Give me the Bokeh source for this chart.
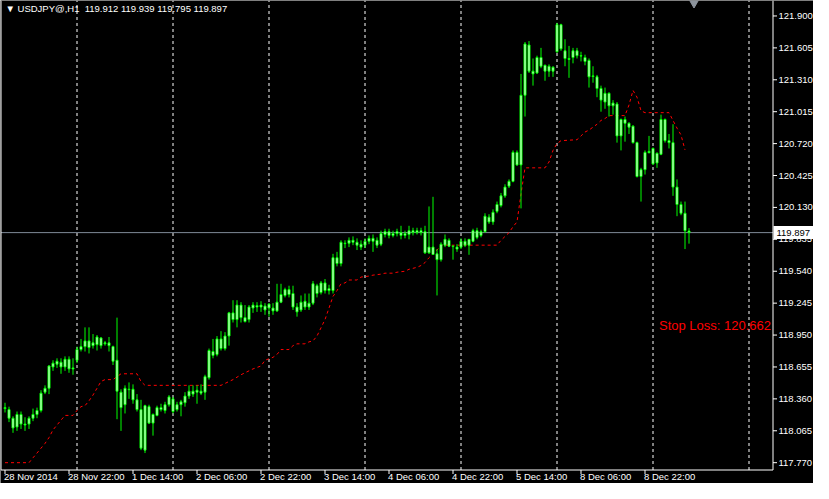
from bokeh.plotting import figure
from bokeh.models import Range1d, ColumnDataSource
from bokeh.core.properties import value
from bokeh.embed import file_html
from bokeh.resources import INLINE

# ---------------- data (USDJPY H1, bar 0 = 28 Nov 2014 06:00) ----------------
symbol = "USDJPY@,H1"

opens = [
    118.279, 118.261, 118.181, 118.100, 118.216, 118.127, 118.127, 118.181, 118.216, 118.252,
    118.422, 118.458, 118.655, 118.681, 118.699, 118.655, 118.726, 118.646, 118.717, 118.816,
    118.843, 118.896, 118.852, 118.861, 118.923, 118.878, 118.878, 118.843, 118.717, 118.422,
    118.306, 118.449, 118.449, 118.351, 118.261, 117.886, 118.288, 118.136, 118.207, 118.279,
    118.252, 118.306, 118.360, 118.261, 118.306, 118.324, 118.386, 118.431, 118.422, 118.431,
    118.422, 118.556, 118.762, 118.771, 118.914, 118.825, 118.941, 119.155, 119.093, 119.227,
    119.111, 119.093, 119.200, 119.209, 119.227, 119.218, 119.200, 119.200, 119.173, 119.254,
    119.316, 119.370, 119.334, 119.209, 119.182, 119.263, 119.209, 119.245, 119.406, 119.343,
    119.432, 119.361, 119.361, 119.665, 119.611, 119.799, 119.799, 119.826, 119.808, 119.790,
    119.781, 119.817, 119.844, 119.826, 119.790, 119.880, 119.906, 119.871, 119.888, 119.897,
    119.871, 119.880, 119.915, 119.897, 119.915, 119.906, 119.710, 119.763, 119.701, 119.647,
    119.781, 119.826, 119.772, 119.763, 119.763, 119.781, 119.781, 119.817, 119.915, 119.871,
    119.906, 120.040, 119.996, 120.094, 120.148, 120.237, 120.327, 120.371, 120.639, 120.523,
    121.167, 121.632, 121.390, 121.373, 121.516, 121.444, 121.390, 121.426, 121.569, 121.819,
    121.578, 121.507, 121.516, 121.578, 121.533, 121.516, 121.489, 121.346, 121.337, 121.230,
    121.104, 121.185, 121.069, 121.086, 120.791, 120.943, 120.908, 120.881, 120.729, 120.416,
    120.479, 120.648, 120.532, 120.630, 120.621, 120.943, 120.747, 120.729, 120.318, 120.157,
    120.076, 119.912,
]

highs = [
    118.324, 118.288, 118.199, 118.243, 118.243, 118.190, 118.199, 118.270, 118.279, 118.440,
    118.485, 118.673, 118.717, 118.735, 118.735, 118.753, 118.753, 118.735, 118.843, 118.914,
    119.021, 119.021, 118.959, 118.950, 118.932, 118.896, 118.932, 118.852, 119.111, 118.449,
    118.485, 118.512, 118.494, 118.404, 118.351, 118.306, 118.306, 118.225, 118.297, 118.315,
    118.333, 118.395, 118.378, 118.333, 118.351, 118.422, 118.485, 118.485, 118.485, 118.494,
    118.583, 118.825, 118.914, 118.941, 118.986, 118.977, 119.164, 119.272, 119.272, 119.254,
    119.227, 119.227, 119.254, 119.254, 119.263, 119.245, 119.245, 119.245, 119.424, 119.424,
    119.388, 119.406, 119.406, 119.245, 119.316, 119.334, 119.334, 119.450, 119.424, 119.450,
    119.468, 119.415, 119.701, 119.719, 119.826, 119.826, 119.853, 119.862, 119.844, 119.826,
    119.844, 119.871, 119.880, 119.853, 119.915, 119.933, 119.933, 119.915, 119.933, 119.960,
    119.915, 119.960, 119.942, 119.942, 119.942, 119.960, 120.139, 120.228, 119.745, 119.808,
    119.880, 119.844, 119.781, 119.790, 119.844, 119.844, 119.835, 119.933, 119.942, 119.924,
    120.076, 120.067, 120.112, 120.184, 120.264, 120.344, 120.389, 120.657, 120.657, 121.364,
    121.659, 121.668, 121.507, 121.533, 121.605, 121.450, 121.453, 121.435, 121.837, 121.828,
    121.685, 121.623, 121.605, 121.605, 121.569, 121.542, 121.507, 121.435, 121.355, 121.256,
    121.238, 121.194, 121.122, 121.104, 120.952, 120.970, 120.917, 120.890, 120.738, 120.496,
    120.657, 120.791, 120.684, 120.639, 120.988, 120.952, 120.809, 120.899, 120.389, 120.184,
    120.184, 119.939,
]

lows = [
    118.234, 118.145, 118.046, 118.064, 118.082, 118.064, 118.082, 118.154, 118.181, 118.234,
    118.404, 118.404, 118.619, 118.646, 118.592, 118.619, 118.601, 118.583, 118.690, 118.798,
    118.798, 118.780, 118.825, 118.807, 118.825, 118.852, 118.798, 118.673, 118.172, 118.064,
    118.225, 118.360, 118.315, 118.243, 117.886, 117.859, 118.127, 118.020, 118.199, 118.243,
    118.225, 118.288, 118.225, 118.243, 118.199, 118.288, 118.360, 118.378, 118.315, 118.395,
    118.351, 118.538, 118.735, 118.753, 118.807, 118.807, 118.852, 119.066, 119.021, 119.066,
    119.066, 119.066, 119.155, 119.164, 119.164, 119.137, 119.120, 119.137, 119.164, 119.245,
    119.298, 119.298, 119.182, 119.120, 119.164, 119.182, 119.182, 119.227, 119.298, 119.325,
    119.334, 119.325, 119.334, 119.585, 119.585, 119.754, 119.763, 119.781, 119.736, 119.736,
    119.754, 119.790, 119.719, 119.754, 119.772, 119.853, 119.844, 119.853, 119.862, 119.835,
    119.844, 119.835, 119.871, 119.880, 119.871, 119.701, 119.701, 119.692, 119.316, 119.629,
    119.763, 119.763, 119.647, 119.719, 119.745, 119.763, 119.692, 119.808, 119.835, 119.853,
    119.897, 119.978, 119.969, 120.076, 120.130, 120.219, 120.309, 120.362, 120.514, 120.121,
    120.970, 121.373, 121.256, 121.364, 121.417, 121.301, 121.337, 121.337, 121.560, 121.578,
    121.435, 121.328, 121.462, 121.507, 121.480, 121.444, 121.238, 121.283, 121.149, 121.015,
    121.042, 120.970, 120.988, 120.729, 120.657, 120.738, 120.809, 120.720, 120.407, 120.184,
    120.434, 120.630, 120.523, 120.496, 120.613, 120.729, 120.675, 120.237, 120.049, 120.058,
    119.745, 119.795,
]

closes = [
    118.270, 118.181, 118.091, 118.216, 118.127, 118.118, 118.181, 118.216, 118.252, 118.413,
    118.458, 118.664, 118.690, 118.708, 118.655, 118.726, 118.637, 118.637, 118.816, 118.843,
    118.896, 118.834, 118.878, 118.932, 118.852, 118.869, 118.852, 118.708, 118.431, 118.279,
    118.458, 118.445, 118.351, 118.261, 117.904, 118.297, 118.136, 118.216, 118.279, 118.261,
    118.306, 118.378, 118.243, 118.306, 118.333, 118.386, 118.431, 118.404, 118.440, 118.413,
    118.565, 118.807, 118.798, 118.914, 118.825, 118.941, 119.155, 119.093, 119.227, 119.111,
    119.075, 119.209, 119.227, 119.222, 119.209, 119.182, 119.236, 119.173, 119.254, 119.325,
    119.370, 119.325, 119.209, 119.164, 119.254, 119.209, 119.245, 119.424, 119.334, 119.432,
    119.361, 119.379, 119.665, 119.611, 119.808, 119.795, 119.826, 119.808, 119.781, 119.763,
    119.817, 119.844, 119.817, 119.781, 119.888, 119.906, 119.871, 119.888, 119.906, 119.871,
    119.888, 119.915, 119.897, 119.915, 119.897, 119.710, 119.763, 119.695, 119.647, 119.790,
    119.835, 119.772, 119.768, 119.745, 119.817, 119.817, 119.835, 119.915, 119.853, 119.906,
    120.049, 119.996, 120.085, 120.157, 120.237, 120.318, 120.371, 120.639, 120.523, 121.167,
    121.641, 121.390, 121.364, 121.516, 121.435, 121.390, 121.435, 121.390, 121.819, 121.596,
    121.507, 121.498, 121.578, 121.533, 121.529, 121.480, 121.337, 121.340, 121.230, 121.122,
    121.185, 121.069, 121.095, 120.791, 120.943, 120.908, 120.872, 120.729, 120.416, 120.479,
    120.639, 120.636, 120.675, 120.541, 120.943, 120.747, 120.729, 120.318, 120.157, 120.076,
    119.915, 119.897,
]

# trailing stop line (bar index, level)
stop_bars = [0, 6, 7, 8, 9, 10, 11, 12, 13, 14, 15, 17, 18, 19, 20, 21, 22, 23, 24, 25,
             27, 28, 29, 33, 34, 35, 54, 57, 59, 62, 64, 65, 67, 68, 69, 71, 72, 73, 75, 76,
             77, 78, 80, 82, 83, 84, 85, 86, 88, 89, 91, 92, 94, 95, 97, 98, 100, 101, 103, 104,
             105, 106, 108, 109, 123, 124, 126, 127, 128, 129, 130, 135, 136, 137, 138, 139, 143, 144, 145, 146,
             147, 148, 149, 150, 151, 155, 156, 157, 158, 159, 160, 166, 167, 168, 169, 170]
stop_levels = [117.770, 117.770, 117.815, 117.859, 117.904, 117.948, 118.002, 118.073, 118.118, 118.163,
               118.207, 118.207, 118.252, 118.288, 118.297, 118.342, 118.395, 118.458, 118.521, 118.538,
               118.538, 118.565, 118.592, 118.592, 118.521, 118.485, 118.485, 118.538, 118.583, 118.637,
               118.664, 118.717, 118.744, 118.771, 118.816, 118.816, 118.852, 118.869, 118.869, 118.887,
               118.896, 118.941, 119.093, 119.307, 119.361, 119.424, 119.432, 119.459, 119.459, 119.486,
               119.495, 119.504, 119.513, 119.522, 119.522, 119.531, 119.540, 119.558, 119.576, 119.593,
               119.620, 119.665, 119.736, 119.781, 119.781, 119.826, 119.897, 119.951, 119.996, 120.255,
               120.496, 120.496, 120.550, 120.657, 120.720, 120.747, 120.756, 120.791, 120.827, 120.845,
               120.872, 120.899, 120.934, 120.952, 120.979, 120.979, 121.077, 121.212, 121.149, 121.024,
               121.006, 121.006, 120.934, 120.863, 120.800, 120.662]
stop_loss = 120.662

price_ticks = [117.770, 118.065, 118.360, 118.655, 118.950, 119.245, 119.540, 119.835,
               120.130, 120.425, 120.720, 121.015, 121.310, 121.605, 121.900]
time_tick_bars = [0, 16, 32, 48, 64, 80, 96, 112, 128, 144, 160]
time_tick_labels = ["28 Nov 2014", "28 Nov 22:00", "1 Dec 14:00", "2 Dec 06:00", "2 Dec 22:00",
                    "3 Dec 14:00", "4 Dec 06:00", "4 Dec 22:00", "5 Dec 14:00", "8 Dec 06:00",
                    "8 Dec 22:00"]
day_start_bars = [18, 42, 66, 90, 114, 138, 162, 186]
shift_marker_bar = 172.25

# ---------------- layout (pixels) ----------------
CANVAS_W, CANVAS_H = 813, 483
CHART_W, CHART_H = 772, 469          # price chart area; price scale to the right, time scale below
PXB = 4.0                            # pixels per bar
PRICE_TOP, PRICE_BOTTOM = 122.043, 117.707
PXU = CHART_H / (PRICE_TOP - PRICE_BOTTOM)
X0 = -1.125                          # bar coordinate at the canvas' left edge
X1 = X0 + CANVAS_W / PXB
Y1 = PRICE_TOP
Y0 = PRICE_TOP - CANVAS_H / PXU
FONT = value("Liberation Sans")
LIME = "#00ff00"


def dx(px):
    return X0 + px / PXB


def dy(py):
    return Y1 - py / PXU


n = min(len(opens), len(highs), len(lows), len(closes))
bars = list(range(n))
body_top = [max(opens[i], closes[i]) for i in bars]
body_bot = [min(opens[i], closes[i]) for i in bars]
last_bid = closes[n - 1]

p = figure(frame_width=CANVAS_W, frame_height=CANVAS_H, output_backend="svg",
           toolbar_location=None, x_range=Range1d(X0, X1), y_range=Range1d(Y0, Y1),
           x_axis_location=None, y_axis_location=None,
           background_fill_color="black", border_fill_color="black",
           min_border=0, outline_line_color=None)
p.grid.visible = False

x_left, x_right = dx(0.5), dx(CHART_W + 0.5)
y_bottom, y_top = dy(CHART_H + 0.5), Y1

# day separators (dashed grid)
p.segment(x0=day_start_bars, y0=[y_bottom] * len(day_start_bars),
          x1=day_start_bars, y1=[y_top] * len(day_start_bars),
          line_color="white", line_width=1, line_dash="3 3")

# bid line
p.segment(x0=[x_left], y0=[last_bid], x1=[x_right], y1=[last_bid],
          line_color="#7f8b98", line_width=1)

# trailing stop
p.line(stop_bars, stop_levels, line_color="red", line_width=1, line_dash="3 3")

# candles
src = ColumnDataSource(dict(x=bars, h=highs[:n], l=lows[:n], top=body_top, bot=body_bot))
p.segment(x0="x", y0="l", x1="x", y1="h", source=src, line_color=LIME, line_width=1)
p.vbar(x="x", width=0.5, top="top", bottom="bot", source=src,
       fill_color="white", line_color=LIME, line_width=1)

# chart shift marker
p.scatter(x=[shift_marker_bar], y=[Y1], marker="inverted_triangle", size=13,
          fill_color="#8c939c", line_color="#8c939c")

# chart frame (left, right, bottom)
p.segment(x0=[x_left, x_right, x_left], y0=[y_bottom, y_bottom, y_bottom],
          x1=[x_left, x_right, x_right], y1=[y_top, y_top, y_bottom],
          line_color="white", line_width=1)

# price scale: ticks + labels
k = len(price_ticks)
p.segment(x0=[x_right] * k, y0=price_ticks, x1=[dx(CHART_W + 4.5)] * k, y1=price_ticks,
          line_color="white", line_width=1)
p.text(x=[dx(CHART_W + 6)] * k, y=price_ticks, text=[f"{t:.3f}" for t in price_ticks],
       text_align="left", text_baseline="middle", text_color="white",
       text_font=FONT, text_font_size="9.5px")

# bid price box
half_h = 6.5 / PXU
p.quad(left=[dx(CHART_W + 1)], right=[X1], top=[last_bid + half_h], bottom=[last_bid - half_h],
       fill_color="white", line_color=None)
p.text(x=[dx(CHART_W + 4)], y=[last_bid], text=[f"{last_bid:.3f}"],
       text_align="left", text_baseline="middle", text_color="black",
       text_font=FONT, text_font_size="9.5px")

# time scale: ticks + labels (left aligned at their ticks)
m = len(time_tick_bars)
p.segment(x0=time_tick_bars, y0=[y_bottom] * m, x1=time_tick_bars, y1=[dy(CHART_H + 4.5)] * m,
          line_color="white", line_width=1)
p.text(x=time_tick_bars, y=[dy(CHART_H + 1.5)] * m, text=time_tick_labels, x_offset=-1,
       text_align="left", text_baseline="top", text_color="white",
       text_font=FONT, text_font_size="9.5px")

# header
header = "\u25BC " + symbol + "\u00a0\u00a0" + " ".join(
    f"{v:.3f}" for v in (opens[n - 1], highs[n - 1], lows[n - 1], closes[n - 1]))
p.text(x=[dx(5)], y=[dy(2)], text=[header], text_align="left", text_baseline="top",
       text_color="white", text_font=FONT, text_font_size="9.5px")

# stop loss text
p.text(x=[dx(CHART_W - 1.5)], y=[dy(325)], text=[f"Stop Loss: {stop_loss:.3f}"],
       text_align="right", text_baseline="middle", text_color="#ff0000",
       text_font=FONT, text_font_size="13px")

open("out.html", "w").write(file_html(p, INLINE))
